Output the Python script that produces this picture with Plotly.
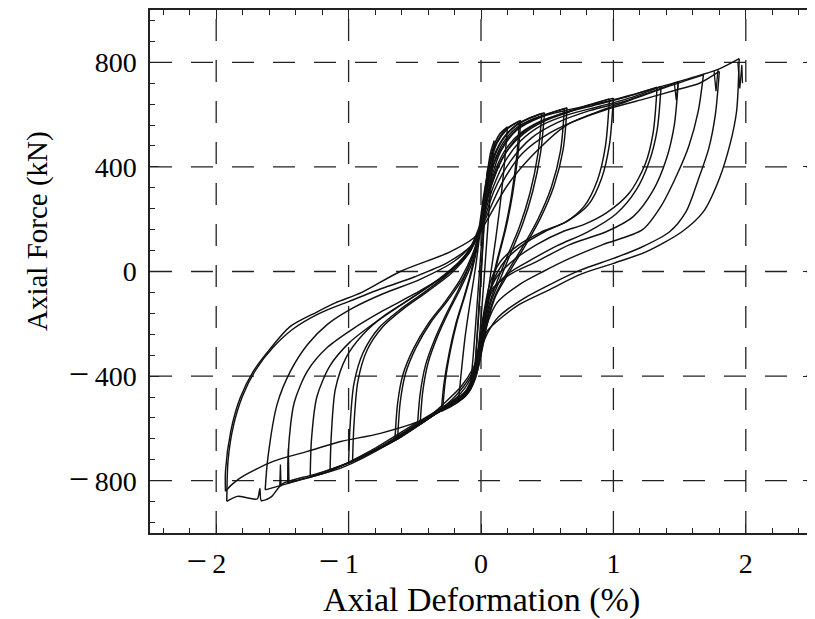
import plotly.graph_objects as go

# ---------------- data (axial deformation in %, axial force in kN) ----------------
MINUS = "<span style='font-size:36px'>\u2212</span>\u2009"
x_ticks = [-2, -1, 0, 1, 2]
x_ticktext = [MINUS + "2\u2002\u2009", MINUS + "1\u2002\u2009", "0", "1", "2"]
y_ticks = [-800, -400, 0, 400, 800]
y_ticktext = [MINUS + "800", MINUS + "400", "0", "400", "800"]

# small cycle
up0_x = [-0.05, -0.03, -0.01, 0.01, 0.03, 0.05]
up0_f = [-400, -250, -90, 80, 250, 390]
dn0_x = [0.05, 0.03, 0.01, -0.01, -0.03, -0.05]
dn0_f = [390, 230, 60, -110, -260, -400]
# cycle 1
up1_x = [-0.08, -0.06, -0.04, -0.02, 0.00, 0.02, 0.04, 0.07, 0.10]
up1_f = [-440, -330, -200, -60, 80, 220, 340, 450, 500]
dn1_x = [0.10, 0.08, 0.06, 0.04, 0.02, 0.00, -0.02, -0.04, -0.06, -0.08]
dn1_f = [500, 370, 230, 90, -50, -180, -300, -380, -420, -440]
# cycle 2
up2_x = [-0.17, -0.15, -0.12, -0.08, -0.04, -0.01, 0.02, 0.05, 0.09, 0.14, 0.20]
up2_f = [-495, -390, -250, -110, 20, 140, 270, 380, 470, 525, 553]
dn2_x = [0.20, 0.18, 0.15, 0.11, 0.07, 0.04, 0.01, -0.02, -0.05, -0.09, -0.13, -0.17]
dn2_f = [553, 430, 280, 120, -20, -130, -240, -340, -410, -455, -480, -495]
# cycle 3 (two repeats)
up3_x = [-0.29, -0.27, -0.23, -0.18, -0.12, -0.07, -0.03, 0.00, 0.03, 0.07, 0.12, 0.20, 0.29]
up3_f = [-530, -420, -300, -190, -90, 0, 90, 190, 300, 410, 490, 545, 575]
dn3_x = [0.29, 0.27, 0.23, 0.18, 0.12, 0.07, 0.03, 0.00, -0.03, -0.07, -0.12, -0.20, -0.29]
dn3_f = [575, 440, 290, 160, 40, -70, -170, -270, -360, -430, -475, -505, -530]
up3b_x = [-0.30, -0.28, -0.24, -0.19, -0.13, -0.08, -0.04, -0.01, 0.02, 0.06, 0.11, 0.19, 0.30]
up3b_f = [-535, -430, -310, -200, -100, -10, 80, 180, 290, 400, 485, 545, 578]
dn3b_x = [0.30, 0.28, 0.24, 0.19, 0.13, 0.08, 0.04, 0.01, -0.02, -0.06, -0.11, -0.19, -0.30]
dn3b_f = [578, 450, 300, 170, 50, -60, -160, -260, -350, -425, -472, -505, -535]
# cycle 4 (two repeats)
up4_x = [-0.46, -0.44, -0.40, -0.33, -0.24, -0.15, -0.07, -0.02, 0.02, 0.06, 0.11, 0.18, 0.27, 0.36, 0.46]
up4_f = [-585, -460, -350, -250, -150, -60, 30, 120, 240, 360, 450, 515, 560, 585, 604]
dn4_x = [0.46, 0.43, 0.37, 0.29, 0.20, 0.12, 0.06, 0.02, -0.01, -0.05, -0.10, -0.17, -0.26, -0.36, -0.46]
dn4_f = [604, 450, 300, 170, 60, -40, -130, -230, -320, -410, -465, -495, -520, -550, -585]
up4b_x = [-0.48, -0.46, -0.42, -0.35, -0.26, -0.17, -0.09, -0.03, 0.01, 0.05, 0.10, 0.17, 0.26, 0.36, 0.48]
up4b_f = [-590, -470, -360, -260, -160, -70, 20, 110, 230, 350, 445, 512, 558, 585, 607]
dn4b_x = [0.48, 0.45, 0.39, 0.31, 0.22, 0.14, 0.07, 0.03, 0.00, -0.04, -0.09, -0.16, -0.25, -0.36, -0.48]
dn4b_f = [607, 455, 305, 175, 65, -35, -125, -225, -315, -405, -460, -493, -518, -550, -590]
# cycle 5 (two repeats)
up5_x = [-0.63, -0.61, -0.57, -0.49, -0.38, -0.25, -0.13, -0.04, 0.01, 0.05, 0.10, 0.17, 0.27, 0.40, 0.52, 0.63]
up5_f = [-640, -500, -390, -290, -195, -110, -20, 90, 200, 320, 420, 495, 550, 585, 605, 623]
dn5_x = [0.63, 0.60, 0.53, 0.43, 0.31, 0.19, 0.10, 0.04, 0.00, -0.04, -0.09, -0.16, -0.26, -0.38, -0.50, -0.63]
dn5_f = [623, 460, 320, 200, 90, -10, -100, -200, -300, -390, -450, -490, -520, -555, -595, -640]
up5b_x = [-0.65, -0.63, -0.59, -0.51, -0.40, -0.27, -0.15, -0.05, 0.00, 0.05, 0.10, 0.18, 0.28, 0.41, 0.53, 0.65]
up5b_f = [-645, -505, -395, -295, -200, -115, -25, 85, 190, 315, 415, 492, 548, 585, 607, 626]
dn5b_x = [0.65, 0.62, 0.55, 0.45, 0.33, 0.21, 0.11, 0.05, 0.01, -0.03, -0.08, -0.15, -0.25, -0.37, -0.50, -0.65]
dn5b_f = [626, 465, 325, 205, 95, -5, -95, -195, -295, -385, -448, -488, -518, -553, -596, -645]
# cycle 6 (two repeats)
up6_x = [-0.97, -0.96, -0.93, -0.86, -0.74, -0.58, -0.40, -0.22, -0.08, 0.00, 0.05, 0.11, 0.19, 0.30, 0.45, 0.62, 0.80, 0.97]
up6_f = [-725, -590, -420, -300, -210, -140, -75, -5, 80, 180, 290, 390, 470, 530, 575, 605, 635, 660]
dn6_x = [0.97, 0.94, 0.88, 0.78, 0.64, 0.45, 0.28, 0.15, 0.07, 0.02, -0.02, -0.07, -0.15, -0.28, -0.45, -0.63, -0.80, -0.97]
dn6_f = [660, 480, 350, 250, 190, 150, 100, 40, -40, -160, -290, -410, -480, -520, -580, -640, -685, -725]
up6b_x = [-1.00, -0.99, -0.96, -0.89, -0.77, -0.61, -0.43, -0.25, -0.10, -0.01, 0.05, 0.12, 0.21, 0.33, 0.48, 0.65, 0.82, 1.00]
up6b_f = [-732, -600, -430, -310, -215, -145, -80, -10, 75, 175, 285, 390, 470, 530, 575, 607, 637, 663]
dn6b_x = [1.00, 0.97, 0.91, 0.81, 0.66, 0.48, 0.31, 0.18, 0.09, 0.03, -0.01, -0.06, -0.14, -0.27, -0.44, -0.62, -0.80, -1.00]
dn6b_f = [663, 485, 355, 255, 195, 152, 100, 40, -40, -160, -290, -410, -480, -518, -578, -638, -685, -732]
# cycle 7
up7_x = [-1.14, -1.13, -1.10, -1.02, -0.89, -0.72, -0.52, -0.32, -0.15, -0.04, 0.02, 0.08, 0.16, 0.27, 0.42, 0.62, 0.85, 1.10, 1.33]
up7_f = [-760, -620, -450, -330, -240, -165, -100, -30, 45, 120, 220, 330, 430, 510, 565, 605, 635, 668, 705]
dn7_x = [1.33, 1.30, 1.24, 1.12, 0.95, 0.78, 0.62, 0.42, 0.25, 0.12, 0.05, 0.01, -0.02, -0.07, -0.15, -0.28, -0.50, -0.75, -0.97, -1.14]
dn7_f = [705, 530, 410, 300, 225, 180, 153, 103, 45, -20, -100, -210, -320, -420, -480, -525, -590, -670, -725, -760]
# cycle 8
up8_x = [-1.29, -1.28, -1.24, -1.14, -0.99, -0.80, -0.58, -0.36, -0.17, -0.05, 0.02, 0.09, 0.18, 0.30, 0.46, 0.66, 0.90, 1.15, 1.36]
up8_f = [-785, -640, -480, -360, -270, -195, -120, -45, 30, 110, 210, 320, 420, 500, 560, 600, 632, 668, 708]
dn8_x = [1.36, 1.33, 1.27, 1.17, 1.02, 0.80, 0.58, 0.38, 0.20, 0.08, 0.02, -0.01, -0.05, -0.13, -0.28, -0.50, -0.75, -1.00, -1.29]
dn8_f = [708, 540, 420, 310, 220, 150, 100, 45, -10, -80, -190, -300, -400, -470, -522, -588, -668, -730, -785]
# cycle 9
up9_x = [-1.46, -1.45, -1.41, -1.31, -1.16, -0.97, -0.74, -0.50, -0.27, -0.09, 0.01, 0.10, 0.22, 0.38, 0.58, 0.82, 1.08, 1.30, 1.49]
up9_f = [-808, -650, -500, -380, -290, -220, -150, -85, -15, 70, 180, 310, 420, 510, 570, 615, 650, 690, 725]
dn9_x = [1.49, 1.46, 1.40, 1.30, 1.15, 0.95, 0.67, 0.42, 0.22, 0.07, 0.02, -0.02, -0.08, -0.18, -0.32, -0.55, -0.85, -1.15, -1.46]
dn9_f = [725, 560, 430, 310, 210, 153, 103, 38, -11, -76, -190, -310, -410, -480, -528, -598, -690, -765, -808]
# cycle 10
up10_x = [-1.63, -1.61, -1.54, -1.44, -1.31, -1.16, -0.97, -0.74, -0.46, -0.20, -0.04, 0.05, 0.16, 0.31, 0.52, 0.80, 1.10, 1.40, 1.68]
up10_f = [-835, -714, -508, -382, -279, -202, -140, -85, -30, 40, 120, 220, 340, 450, 530, 595, 650, 705, 752]
dn10_x = [1.68, 1.64, 1.57, 1.48, 1.36, 1.22, 0.92, 0.67, 0.47, 0.29, 0.12, 0.04, 0.00, -0.08, -0.20, -0.35, -0.70, -1.05, -1.35, -1.63]
dn10_f = [752, 611, 480, 370, 250, 160, 103, 50, 0, -50, -120, -210, -300, -400, -480, -545, -660, -750, -795, -835]
# cycle 11
up11_x = [-1.92, -1.91, -1.87, -1.80, -1.70, -1.57, -1.42, -1.22, -1.00, -0.75, -0.50, -0.25, -0.06, 0.05, 0.20, 0.40, 0.65, 0.97, 1.25, 1.48, 1.65, 1.80]
up11_f = [-879, -720, -590, -475, -375, -290, -220, -160, -115, -65, -20, 35, 105, 200, 330, 450, 561, 623, 662, 695, 720, 765]
dn11_x = [1.80, 1.77, 1.72, 1.64, 1.55, 1.42, 1.20, 1.00, 0.75, 0.52, 0.30, 0.13, 0.05, 0.00, -0.04, -0.12, -0.25, -0.45, -0.65, -0.95, -1.25, -1.50, -1.58, -1.62, -1.66, -1.67, -1.69, -1.76, -1.84, -1.92]
dn11_f = [765, 600, 470, 350, 230, 150, 90, 50, 5, -50, -110, -175, -235, -300, -390, -460, -510, -580, -640, -722, -775, -812, -860, -872, -876, -830, -870, -866, -860, -879]
# cycle 12
up12_x = [-1.93, -1.93, -1.89, -1.82, -1.72, -1.59, -1.44, -1.24, -1.10, -0.90, -0.61, -0.23, -0.03, 0.03, 0.08, 0.15, 0.27, 0.45, 0.63, 0.99, 1.31, 1.65, 1.80, 1.95]
up12_f = [-840, -764, -611, -485, -382, -294, -210, -155, -120, -80, 0, 76, 141, 250, 360, 460, 540, 590, 615, 655, 700, 750, 775, 814]
dn12_x = [1.95, 1.93, 1.88, 1.80, 1.68, 1.52, 1.25, 1.00, 0.75, 0.52, 0.29, 0.12, 0.045, 0.00, -0.06, -0.15, -0.27, -0.41, -0.76, -1.06, -1.31, -1.57, -1.82, -1.88, -1.93]
dn12_f = [814, 611, 485, 355, 229, 153, 76, 31, -11, -69, -126, -191, -229, -290, -370, -440, -500, -560, -619, -650, -688, -726, -790, -814, -840]

# short measurement spikes
spk1_x = [1.46, 1.475, 1.49]
spk1_f = [722, 655, 727]
spk2_x = [1.76, 1.775, 1.79]
spk2_f = [768, 690, 772]
spk3_x = [-1.52, -1.515, -1.51]
spk3_f = [-820, -738, -822]
spk4_x = [-1.46, -1.455, -1.45]
spk4_f = [-810, -677, -812]
spk5_x = [1.94, 1.955, 1.97, 1.975]
spk5_f = [800, 700, 790, 720]

smooth_branches = [
    (up0_x, up0_f), (dn0_x, dn0_f),
    (up1_x, up1_f), (dn1_x, dn1_f), (up2_x, up2_f), (dn2_x, dn2_f),
    (up3_x, up3_f), (dn3_x, dn3_f), (up3b_x, up3b_f), (dn3b_x, dn3b_f),
    (up4_x, up4_f), (dn4_x, dn4_f), (up4b_x, up4b_f), (dn4b_x, dn4b_f),
    (up5_x, up5_f), (dn5_x, dn5_f), (up5b_x, up5b_f), (dn5b_x, dn5b_f),
    (up6_x, up6_f), (dn6_x, dn6_f), (up6b_x, up6b_f), (dn6b_x, dn6b_f),
    (up7_x, up7_f), (dn7_x, dn7_f), (up8_x, up8_f), (dn8_x, dn8_f),
    (up9_x, up9_f), (dn9_x, dn9_f), (up10_x, up10_f), (dn10_x, dn10_f),
    (up11_x, up11_f), (dn11_x, dn11_f), (up12_x, up12_f), (dn12_x, dn12_f),
]
spike_branches = [(spk1_x, spk1_f), (spk2_x, spk2_f), (spk3_x, spk3_f),
                  (spk4_x, spk4_f), (spk5_x, spk5_f)]

# ---------------- figure ----------------
FONT = "Liberation Serif, Times New Roman, serif"
LINE = "#111111"
fig = go.Figure()
for bx, bf in smooth_branches:
    fig.add_trace(go.Scatter(
        x=bx, y=bf, mode="lines",
        line=dict(color=LINE, width=1.45, shape="spline", smoothing=0.8),
        showlegend=False, hoverinfo="skip"))
for bx, bf in spike_branches:
    fig.add_trace(go.Scatter(
        x=bx, y=bf, mode="lines",
        line=dict(color=LINE, width=1.3),
        showlegend=False, hoverinfo="skip"))

X_RANGE = [-2.5, 2.5]
Y_RANGE = [-1000, 1000]
grid_style = dict(color="#222222", width=1.3, dash="22px,19px")
shapes = []
for xv in x_ticks:
    shapes.append(dict(type="line", xref="x", yref="y", x0=xv, x1=xv,
                       y0=Y_RANGE[0], y1=Y_RANGE[1], line=grid_style, layer="below"))
for yv in y_ticks:
    shapes.append(dict(type="line", xref="x", yref="y", x0=X_RANGE[0], x1=X_RANGE[1],
                       y0=yv, y1=yv, line=grid_style, layer="below"))

axis_common = dict(
    showline=True, linecolor="#222222", linewidth=1.5, mirror="ticks",
    ticks="inside", ticklen=9, tickwidth=1.3, tickcolor="#222222",
    showgrid=False, zeroline=False,
    tickfont=dict(family=FONT, size=28, color="black"),
)

# the page adds an 8px body margin, so the figure is sized to fit the window
fig.update_layout(
    width=807, height=611,
    margin=dict(l=142, r=3, t=0, b=86),
    paper_bgcolor="white", plot_bgcolor="white",
    font=dict(family=FONT, color="black"),
    shapes=shapes,
    xaxis=dict(range=X_RANGE, tickmode="array", tickvals=x_ticks, ticktext=x_ticktext,
               minor=dict(tickmode="linear", ticks="inside", ticklen=5, tickwidth=1.2,
                          tickcolor="#222222", dtick=0.2, tick0=0, showgrid=False),
               ticklabelstandoff=5, **axis_common),
    yaxis=dict(range=Y_RANGE, tickmode="array", tickvals=y_ticks, ticktext=y_ticktext,
               minor=dict(tickmode="linear", ticks="inside", ticklen=5, tickwidth=1.2,
                          tickcolor="#222222", dtick=80, tick0=0, showgrid=False),
               ticklabelstandoff=6, **axis_common),
    annotations=[
        dict(text="Axial Deformation (%)", xref="paper", yref="paper", x=0.5, y=-0.128,
             xanchor="center", yanchor="middle", showarrow=False,
             font=dict(family=FONT, size=34, color="black")),
        dict(text="Axial Force (kN)", xref="paper", yref="paper", x=-0.171, y=0.577,
             xanchor="center", yanchor="middle", showarrow=False, textangle=-90,
             font=dict(family=FONT, size=29, color="black")),
    ],
)

fig.write_html("out.html")
